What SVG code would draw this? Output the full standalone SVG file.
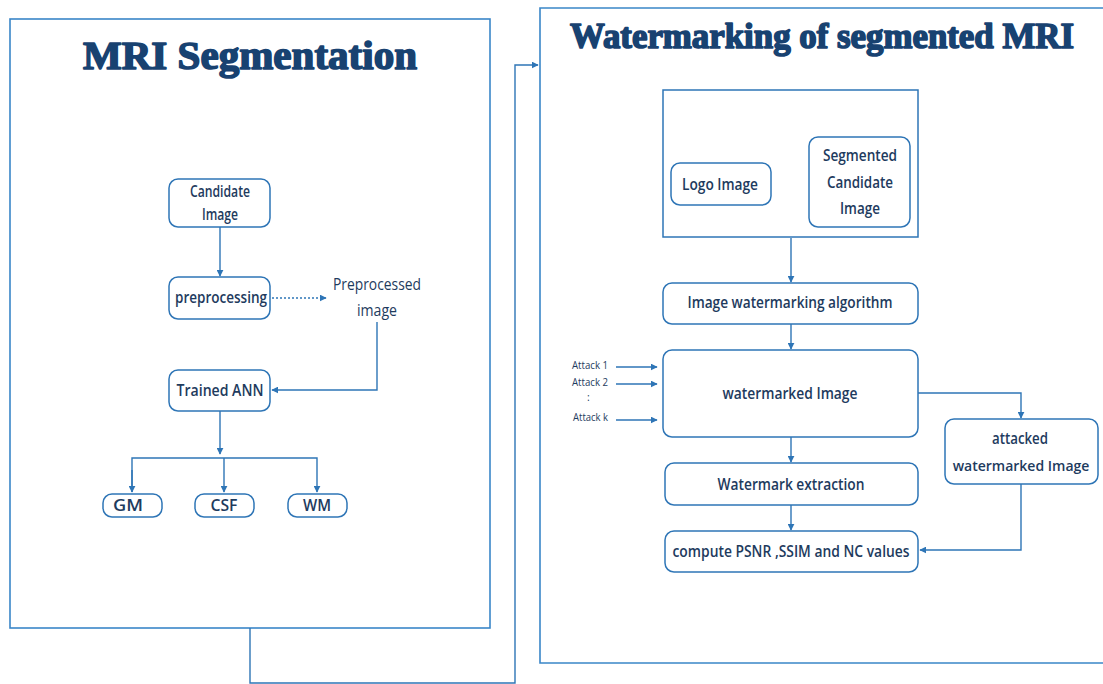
<svg xmlns="http://www.w3.org/2000/svg" width="1103" height="684" viewBox="0 0 1103 684">
<defs>
<style>
.frame{fill:none;stroke:#3a86c8;stroke-width:1.6}
.node{fill:#fff;stroke:#2e75b6;stroke-width:1.5}
.t{font-family:"Open Sans","Noto Sans",sans-serif;font-weight:600;font-size:16px;fill:#1e3b5e;text-anchor:middle}
.title{font-family:"Liberation Serif","DejaVu Serif",serif;font-weight:bold;fill:#184271;stroke:#184271;stroke-width:1.6;stroke-linejoin:round}
.c{fill:none;stroke:#2e75b6;stroke-width:1.4}
.small{font-family:"Open Sans","Noto Sans",sans-serif;font-size:10.5px;fill:#1e3b5e}
</style>
<marker id="ah" viewBox="0 0 10 10" refX="9" refY="5" markerWidth="7" markerHeight="7" orient="auto" markerUnits="userSpaceOnUse">
<path d="M0,0 L10,5 L0,10 z" fill="#2e75b6"/>
</marker>
</defs>
<rect width="1103" height="684" fill="#fff"/>

<g id="left-panel">
<rect class="frame" x="10" y="19" width="480" height="609"/>
<text class="title" x="250" y="69" font-size="40" text-anchor="middle" textLength="334" lengthAdjust="spacingAndGlyphs">MRI Segmentation</text>
</g>
<g id="right-panel">
<path class="frame" d="M1103,8 H540 V663 H1103"/>
<text class="title" x="822" y="48" font-size="35" text-anchor="middle" textLength="504" lengthAdjust="spacingAndGlyphs">Watermarking of segmented MRI</text>
</g>

<g id="connectors">
<polyline class="c" points="250,628 250,683 515,683 515,65 538,65" marker-end="url(#ah)"/>
<line class="c" x1="220" y1="227" x2="220" y2="276" marker-end="url(#ah)"/>
<line class="c" x1="272" y1="298" x2="326" y2="298" stroke-dasharray="2,2" marker-end="url(#ah)"/>
<polyline class="c" points="377,322 377,390 272,390" marker-end="url(#ah)"/>
<line class="c" x1="220" y1="411" x2="220" y2="454" marker-end="url(#ah)"/>
<polyline class="c" points="132,492 132,458 317,458 317,492" marker-end="url(#ah)"/>
<line class="c" x1="132" y1="470" x2="132" y2="492" marker-end="url(#ah)"/>
<line class="c" x1="224" y1="458" x2="224" y2="492" marker-end="url(#ah)"/>
<line class="c" x1="791" y1="238" x2="791" y2="282" marker-end="url(#ah)"/>
<line class="c" x1="791" y1="324" x2="791" y2="349" marker-end="url(#ah)"/>
<line class="c" x1="791" y1="437" x2="791" y2="462" marker-end="url(#ah)"/>
<line class="c" x1="791" y1="505" x2="791" y2="530" marker-end="url(#ah)"/>
<polyline class="c" points="918,393 1021,393 1021,418" marker-end="url(#ah)"/>
<polyline class="c" points="1021,484 1021,550 920,550" marker-end="url(#ah)"/>
<line class="c" x1="616" y1="367" x2="657" y2="367" marker-end="url(#ah)"/>
<line class="c" x1="616" y1="384" x2="657" y2="384" marker-end="url(#ah)"/>
<line class="c" x1="616" y1="420" x2="657" y2="420" marker-end="url(#ah)"/>
</g>

<g id="candidate-image">
<rect class="node" x="169" y="179" width="101" height="48" rx="9"/>
<text class="t" x="220" y="197" textLength="60" lengthAdjust="spacingAndGlyphs">Candidate</text>
<text class="t" x="220" y="220" textLength="36" lengthAdjust="spacingAndGlyphs">Image</text>
</g>
<g id="preprocessing">
<rect class="node" x="169" y="277" width="101" height="42" rx="9"/>
<text class="t" x="221" y="303" textLength="92" lengthAdjust="spacingAndGlyphs">preprocessing</text>
</g>
<g id="preprocessed-image">
<text class="t" x="377" y="290" style="font-weight:500" textLength="88" lengthAdjust="spacingAndGlyphs">Preprocessed</text>
<text class="t" x="377" y="316" style="font-weight:500" textLength="40" lengthAdjust="spacingAndGlyphs">image</text>
</g>
<g id="trained-ann">
<rect class="node" x="169" y="370" width="101" height="41" rx="9"/>
<text class="t" x="220" y="396" textLength="87" lengthAdjust="spacingAndGlyphs">Trained  ANN</text>
</g>
<g id="gm">
<rect class="node" x="103" y="494" width="59" height="23" rx="9"/>
<text class="t" x="128" y="511" textLength="30" lengthAdjust="spacingAndGlyphs">GM</text>
</g>
<g id="csf">
<rect class="node" x="195" y="494" width="59" height="23" rx="9"/>
<text class="t" x="224" y="511" textLength="27" lengthAdjust="spacingAndGlyphs">CSF</text>
</g>
<g id="wm">
<rect class="node" x="288" y="494" width="59" height="23" rx="9"/>
<text class="t" x="317" y="511" textLength="28" lengthAdjust="spacingAndGlyphs">WM</text>
</g>

<g id="input-images">
<rect class="node" x="663" y="90" width="255" height="147" rx="0"/>
</g>
<g id="logo-image">
<rect class="node" x="671" y="163" width="100" height="42" rx="9"/>
<text class="t" x="720" y="190" textLength="76" lengthAdjust="spacingAndGlyphs">Logo Image</text>
</g>
<g id="segmented-candidate-image">
<rect class="node" x="809" y="137" width="101" height="90" rx="9"/>
<text class="t" x="860" y="161" textLength="74" lengthAdjust="spacingAndGlyphs">Segmented</text>
<text class="t" x="860" y="188" textLength="66" lengthAdjust="spacingAndGlyphs">Candidate</text>
<text class="t" x="860" y="214" textLength="40" lengthAdjust="spacingAndGlyphs">Image</text>
</g>
<g id="image-watermarking-algorithm">
<rect class="node" x="663" y="283" width="255" height="41" rx="9"/>
<text class="t" x="790" y="308" textLength="205" lengthAdjust="spacingAndGlyphs">Image watermarking algorithm</text>
</g>
<g id="watermarked-image">
<rect class="node" x="663" y="350" width="255" height="87" rx="9"/>
<text class="t" x="790" y="399" textLength="135" lengthAdjust="spacingAndGlyphs">watermarked Image</text>
</g>
<g id="watermark-extraction">
<rect class="node" x="665" y="463" width="253" height="42" rx="9"/>
<text class="t" x="791" y="490" textLength="147" lengthAdjust="spacingAndGlyphs">Watermark extraction</text>
</g>
<g id="compute-metrics">
<rect class="node" x="665" y="531" width="253" height="41" rx="9"/>
<text class="t" x="791" y="557" textLength="237" lengthAdjust="spacingAndGlyphs">compute PSNR ,SSIM and NC values</text>
</g>
<g id="attacked-watermarked-image">
<rect class="node" x="945" y="419" width="153" height="65" rx="9"/>
<text class="t" x="1020" y="444" textLength="56" lengthAdjust="spacingAndGlyphs">attacked</text>
<text class="t" x="1021" y="471" style="font-size:14px">watermarked Image</text>
</g>
<g id="attacks">
<text class="small" x="572" y="369" textLength="36" lengthAdjust="spacingAndGlyphs">Attack 1</text>
<text class="small" x="572" y="386" textLength="36" lengthAdjust="spacingAndGlyphs">Attack 2</text>
<text class="small" x="587" y="401">:</text>
<text class="small" x="573" y="421" textLength="35" lengthAdjust="spacingAndGlyphs">Attack k</text>
</g>
</svg>
